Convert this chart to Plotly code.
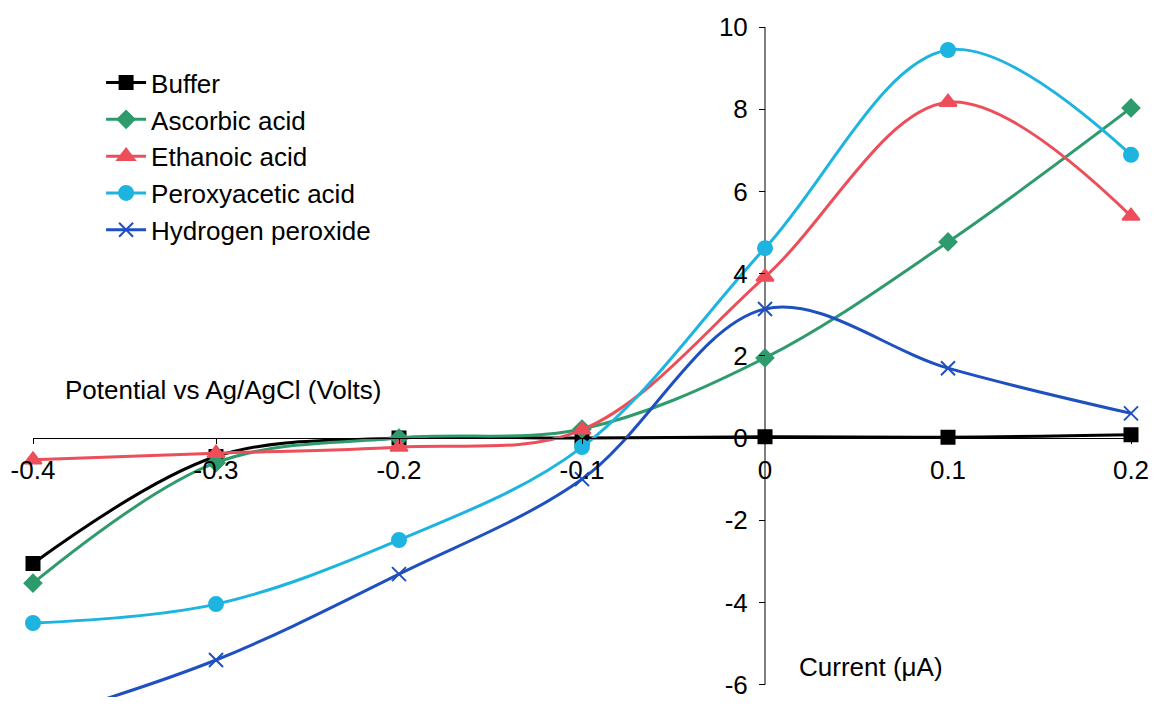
import plotly.graph_objects as go

potential = [-0.4, -0.3, -0.2, -0.1, 0.0, 0.1, 0.2]

buffer_vals = [-3.05, -0.45, 0.0, 0.0, 0.03, 0.02, 0.08]
ascorbic_vals = [-3.53, -0.6, 0.0, 0.22, 1.95, 4.77, 8.03]
ethanoic_vals = [-0.53, -0.37, -0.22, 0.2, 3.92, 8.17, 5.4]
peroxyacetic_vals = [-4.5, -4.04, -2.48, -0.22, 4.62, 9.44, 6.89]
h2o2_vals = [-6.9, -5.4, -3.31, -1.0, 3.14, 1.7, 0.6]

y_ticks = [-6, -4, -2, 0, 2, 4, 6, 8, 10]
y_tick_text = ["-6", "-4", "-2", "0", "2", "4", "6", "8", "10"]
x_ticks = [-0.4, -0.3, -0.2, -0.1, 0, 0.1, 0.2]
x_tick_text = ["-0.4", "-0.3", "-0.2", "-0.1", "0", "0.1", "0.2"]

series = [
    ("Buffer", buffer_vals, "#000000", "square", 13),
    ("Ascorbic acid", ascorbic_vals, "#2E9B6C", "diamond", 13),
    ("Ethanoic acid", ethanoic_vals, "#EC4E5A", "triangle-up", 15),
    ("Peroxyacetic acid", peroxyacetic_vals, "#1DB4E0", "circle", 14),
    ("Hydrogen peroxide", h2o2_vals, "#1E50C0", "x-thin-open", 14),
]

FONT = "Liberation Sans, Arial, sans-serif"
FS = 26
XR = [-0.4, 0.2]
YR = [-6.3, 10]

fig = go.Figure()
for name, vals, color, sym, size in series:
    fig.add_trace(go.Scatter(
        x=potential, y=vals, name=name, mode="lines+markers",
        line=dict(color=color, width=3, shape="spline", smoothing=1.0),
        marker=dict(symbol=sym, size=size, color=color,
                    line=dict(color=color, width=2)),
        cliponaxis=False,
    ))

# y-axis line from -6 to 10 at x = 0
fig.add_shape(type="line", xref="x", yref="y", x0=0, x1=0, y0=-6, y1=10,
              line=dict(color="black", width=1), layer="below")

fig.add_annotation(x=-0.3836, y=1.17, xref="x", yref="y",
                   text="Potential vs Ag/AgCl (Volts)", showarrow=False,
                   xanchor="left", yanchor="middle",
                   font=dict(family=FONT, size=FS, color="black"))
fig.add_annotation(x=0.0175, y=-5.57, xref="x", yref="y",
                   text="Current (\u03bcA)", showarrow=False,
                   xanchor="left", yanchor="middle",
                   font=dict(family=FONT, size=FS, color="black"))

fig.update_layout(
    width=1159, height=706,
    margin=dict(l=33, r=28, t=27, b=9, autoexpand=False),
    paper_bgcolor="white", plot_bgcolor="white",
    font=dict(family=FONT, size=FS, color="black"),
    showlegend=True,
    legend=dict(x=0.062, y=0.952, xanchor="left", yanchor="top",
                bgcolor="rgba(0,0,0,0)", font=dict(size=FS),
                itemwidth=40, tracegroupgap=0),
    xaxis=dict(range=XR, tickvals=x_ticks, ticktext=x_tick_text,
               showgrid=False, zeroline=False, showline=True,
               linecolor="black", linewidth=1,
               ticks="outside", ticklen=5, tickcolor="black",
               ticklabelstandoff=4, automargin=False,
               anchor="free", position=(0 - YR[0]) / (YR[1] - YR[0]),
               domain=[0, 1], tickfont=dict(size=FS)),
    yaxis=dict(range=YR, tickvals=y_ticks, ticktext=y_tick_text,
               showgrid=False, zeroline=False, showline=False,
               ticks="outside", ticklen=6, tickcolor="black",
               ticklabelstandoff=6, automargin=False,
               anchor="free", position=(0 - XR[0]) / (XR[1] - XR[0]),
               domain=[0, 1], tickfont=dict(size=FS)),
)

fig.write_html("out.html")
